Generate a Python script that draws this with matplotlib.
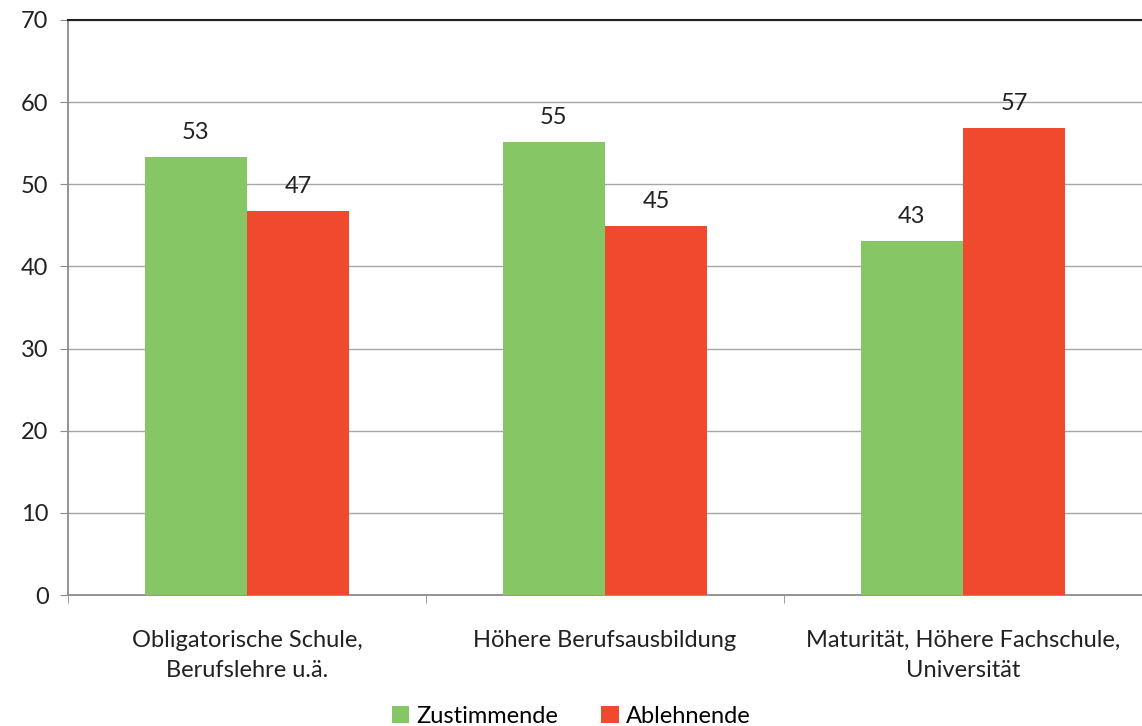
import numpy as np
import matplotlib.pyplot as plt

plt.rcParams['font.family'] = ['Lato', 'DejaVu Sans']

kategorien = ['Obligatorische Schule,\nBerufslehre u.ä.',
              'Höhere Berufsausbildung',
              'Maturität, Höhere Fachschule,\nUniversität']
zustimmende = [53.3, 55.1, 43.1]
ablehnende = [46.7, 44.9, 56.9]
serien = ['Zustimmende', 'Ablehnende']

gruen = '#86c665'
rot = '#ef4a2d'
fs = 17

fig = plt.figure(figsize=(11.42, 7.26), dpi=100)
ax = fig.add_axes([68/1142, 1 - 595/726, 1 - 68/1142, 575/726])

x = np.arange(len(kategorien))
w = 0.286
b1 = ax.bar(x - w/2, zustimmende, w, color=gruen, label=serien[0], zorder=3)
b2 = ax.bar(x + w/2, ablehnende, w, color=rot, label=serien[1], zorder=3)

for bars in (b1, b2):
    for r in bars:
        h = r.get_height()
        ax.text(r.get_x() + r.get_width()/2, h + 1.7, f'{h:.0f}',
                ha='center', va='bottom', fontsize=fs, color='#222222')

ax.set_xlim(-0.5, 2.5)
ax.set_ylim(0, 70)
ax.set_yticks(range(0, 71, 10))
ax.yaxis.grid(True, color='#a6a6a6', linewidth=1)
ax.set_axisbelow(True)

ax.set_xticks(x)
ax.set_xticklabels(kategorien, fontsize=fs, color='#222222', linespacing=1.55)
ax.tick_params(axis='x', length=0, pad=25)
ax.set_xticks([-0.5, 0.5, 1.5, 2.5], minor=True)
ax.tick_params(axis='x', which='minor', length=6, color='#8c8c8c')
ax.tick_params(axis='y', length=6, color='#8c8c8c', labelsize=fs,
               labelcolor='#222222', pad=8)

for s in ['left', 'bottom']:
    ax.spines[s].set_color('#8c8c8c')
    ax.spines[s].set_linewidth(1.3)
ax.spines['right'].set_visible(False)
ax.spines['top'].set_color('#222222')
ax.spines['top'].set_linewidth(1.5)

fig.legend(loc='lower center', bbox_to_anchor=(0.5, -0.03), ncol=2,
           frameon=False, fontsize=fs, handlelength=0.75, handleheight=0.75,
           handletextpad=0.3, columnspacing=1.8)

fig.savefig('out.png', dpi=100)
